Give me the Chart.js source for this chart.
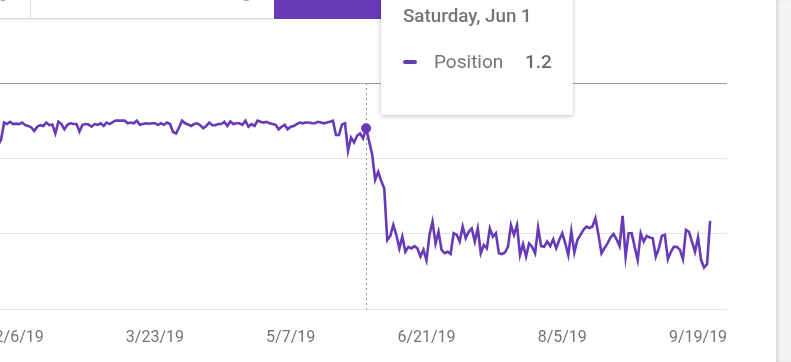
<!DOCTYPE html>
<html>
<head>
<meta charset="utf-8">
<script src="https://cdn.jsdelivr.net/npm/chart.js@4.4.1/dist/chart.umd.min.js"></script>
<style>
  html, body { margin: 0; padding: 0; background: #fff; overflow: hidden; }
  #page { position: relative; width: 791px; height: 362px; overflow: hidden; font-family: Roboto, "Noto Sans", sans-serif; }
  #chartBox { position: absolute; left: 0; top: 0; width: 791px; height: 362px; }
  .card { position: absolute; top: 0; height: 18px; background: #fff; border-bottom: 1px solid #dcdcdc; box-shadow: 0 1px 1px rgba(0,0,0,0.08); }
  .mark { position: absolute; background: #9e9e9e; border-radius: 50%; }
  #sidePanel { position: absolute; left: 776px; top: 0; width: 15px; height: 362px; background: #f5f5f5; box-shadow: inset 3px 0 4px -2px rgba(0,0,0,0.18); }
  #tip { position: absolute; left: 381px; top: -30px; width: 192px; height: 145px; background: #fff; border-radius: 2px; box-shadow: 0 1px 4px rgba(0,0,0,0.28); color: #757575; }
  #tip .title { position: absolute; left: 22px; top: 36px; line-height: 20px; font-size: 18.8px; font-weight: 500; white-space: nowrap; }
  #tip .swatch { position: absolute; left: 22px; top: 90px; width: 14px; height: 4px; border-radius: 2px; background: #673ab7; }
  #tip .name { position: absolute; left: 53px; top: 82px; line-height: 20px; font-size: 19px; white-space: nowrap; }
  #tip .value { position: absolute; left: 144px; top: 82px; line-height: 20px; font-size: 19px; font-weight: 500; color: #6a6a6a; white-space: nowrap; }
</style>
</head>
<body>
<div id="page">
  <div id="chartBox"><canvas id="positionChart" width="791" height="362"></canvas></div>
  <div class="card" style="left:-10px; width:40px; border-right:1px solid #dcdcdc;"></div>
  <div class="card" style="left:31px; width:242px;"></div>
  <div class="card" style="left:274px; width:246px; height:19px; background:#673ab7; border:none; box-shadow:none;"></div>
  <div class="mark" style="left:0px; top:-3px; width:6px; height:4px;"></div>
  <div class="mark" style="left:243px; top:-4px; width:7px; height:5px;"></div>
  <div id="sidePanel"></div>
  <div id="tip">
    <div class="title" id="tipTitle"></div>
    <div class="swatch"></div>
    <div class="name" id="tipName"></div>
    <div class="value" id="tipValue"></div>
  </div>
</div>
<script>
// Average position per day, 2019 (day-of-year index starts at Jan 30)
const firstDay = 30;
const positionJan = [1.65, 1.51];
const positionFeb = [1.05, 1.09, 1.03, 1.09, 1.08, 1.09, 1.05, 1.12, 1.14, 1.18, 1.27, 1.16, 1.12, 1.14,
                     1.05, 1.12, 1.10, 1.34, 1.03, 1.09, 1.23, 1.11, 1.07, 1.09, 1.09, 1.29, 1.11, 1.09];
const positionMar = [1.10, 1.16, 1.09, 1.11, 1.07, 1.14, 1.05, 1.09, 1.04, 1.00, 1.00, 1.00, 1.00, 1.07, 1.05, 1.07,
                     1.00, 1.11, 1.09, 1.07, 1.08, 1.07, 1.07, 1.11, 1.07, 1.11, 1.05, 1.09, 1.30, 1.34, 1.18];
const positionApr = [1.00, 1.07, 1.10, 1.14, 1.09, 1.07, 1.12, 1.20, 1.14, 1.05, 1.12, 1.12, 1.09, 1.09, 1.03,
                     1.14, 1.02, 1.09, 1.07, 1.07, 1.11, 1.00, 1.16, 1.09, 1.14, 1.00, 1.03, 1.05, 1.03, 1.07];
const positionMay = [1.09, 1.11, 1.23, 1.16, 1.11, 1.23, 1.16, 1.14, 1.09, 1.05, 1.07, 1.05, 1.05, 1.07, 1.07, 1.03,
                     1.05, 1.07, 1.05, 1.03, 1.00, 1.38, 1.38, 1.10, 1.07, 1.80, 1.45, 1.58, 1.40, 1.34, 1.47];
const positionJun = [1.20, 1.55, 1.90, 2.57, 2.36, 2.60, 2.80, 4.17, 4.06, 3.77, 4.03, 4.39, 4.08, 4.48, 4.35,
                     4.39, 4.33, 4.39, 4.61, 4.43, 4.70, 4.03, 3.68, 4.26, 3.95, 4.43, 4.52, 4.48, 4.54, 3.99];
const positionJul = [4.03, 4.21, 3.81, 4.12, 3.95, 3.86, 4.21, 3.86, 4.52, 4.30, 4.39, 3.86, 4.08, 3.99, 4.52, 4.54,
                     4.50, 4.35, 3.77, 4.03, 3.77, 4.57, 4.28, 4.61, 4.26, 4.35, 4.52, 3.84, 4.33, 4.35, 4.21];
const positionAug = [4.33, 4.15, 4.39, 4.17, 3.99, 4.26, 4.57, 3.93, 4.50, 4.17, 4.04, 3.90, 3.81, 3.85, 3.81, 3.59,
                     4.03, 4.52, 4.38, 4.26, 4.10, 4.01, 4.15, 4.33, 3.53, 4.61, 3.99, 3.99, 4.35, 4.70, 3.99];
const positionSep = [4.21, 4.06, 4.10, 4.12, 4.61, 4.39, 4.06, 4.03, 4.68, 4.48, 4.35, 4.35, 4.43, 4.68, 3.90, 3.95,
                     4.22, 4.48, 4.10, 4.70, 4.90, 4.81, 3.66];

// x axis ticks (day of year) and their labels
const tickDays = [37, 82, 127, 172, 217, 262];
const tickLabels = ['2/6/19', '3/23/19', '5/7/19', '6/21/19', '8/5/19', '9/19/19'];
const yTicks = [0, 2, 4, 6];

// hovered day shown in the tooltip
const hoverDay = 152;
const hoverTitle = 'Saturday, Jun 1';
const seriesName = 'Position';

const purple = '#673ab7';

const positions = [].concat(positionJan, positionFeb, positionMar, positionApr, positionMay,
                            positionJun, positionJul, positionAug, positionSep);
const points = positions.map((v, i) => ({ x: firstDay + i, y: v }));

// dotted guide line at the hovered day
const hoverLine = {
    id: 'hoverLine',
    beforeDatasetsDraw(chart) {
        const ctx = chart.ctx;
        const area = chart.chartArea;
        const x = Math.round(chart.scales.x.getPixelForValue(hoverDay)) + 0.5;
        ctx.save();
        ctx.strokeStyle = '#8f8f8f';
        ctx.lineWidth = 1;
        ctx.setLineDash([2, 3]);
        ctx.beginPath();
        ctx.moveTo(x, area.top);
        ctx.lineTo(x, area.bottom);
        ctx.stroke();
        ctx.restore();
    }
};

const chart = new Chart(document.getElementById('positionChart'), {
    type: 'line',
    data: {
        datasets: [{
            label: seriesName,
            data: points,
            borderColor: purple,
            backgroundColor: purple,
            borderWidth: 2.6,
            tension: 0,
            pointRadius: ctx => (ctx.raw && ctx.raw.x === hoverDay ? 5 : 0),
            pointBorderWidth: 0,
            pointBackgroundColor: purple
        }]
    },
    options: {
        responsive: false,
        animation: false,
        devicePixelRatio: 1,
        layout: { padding: { left: 0, top: 83, right: 64, bottom: 0 } },
        plugins: {
            legend: { display: false },
            tooltip: { enabled: false }
        },
        events: [],
        scales: {
            x: {
                type: 'linear',
                min: 30.65,
                max: 271.6,
                grid: { display: false },
                border: { display: false },
                afterBuildTicks: scale => { scale.ticks = tickDays.map(v => ({ value: v })); },
                afterFit: scale => { scale.height = 53; scale.paddingLeft = 0; scale.paddingRight = 0; },
                ticks: {
                    autoSkip: false,
                    maxRotation: 0,
                    padding: 11,
                    color: '#757575',
                    font: { family: 'Roboto', size: 16 },
                    callback: value => tickLabels[tickDays.indexOf(value)]
                }
            },
            y: {
                reverse: true,
                min: 0,
                max: 6,
                afterBuildTicks: scale => { scale.ticks = yTicks.map(v => ({ value: v })); },
                afterFit: scale => { scale.width = 0; },
                border: { display: false },
                grid: {
                    drawTicks: false,
                    lineWidth: 1,
                    color: ctx => (ctx.tick && ctx.tick.value === 0 ? '#9e9e9e' : '#e6e6e6')
                },
                ticks: { display: false }
            }
        }
    },
    plugins: [hoverLine]
});

document.getElementById('tipTitle').textContent = hoverTitle;
document.getElementById('tipName').textContent = seriesName;
document.getElementById('tipValue').textContent = positions[hoverDay - firstDay].toFixed(1);
</script>
</body>
</html>
